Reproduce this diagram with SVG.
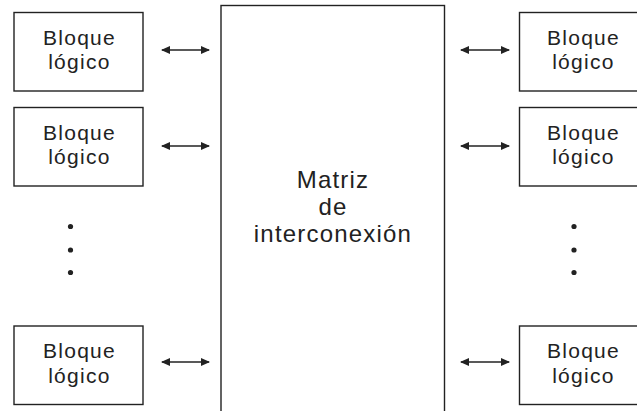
<svg xmlns="http://www.w3.org/2000/svg" width="637" height="411" viewBox="0 0 637 411">
  <style>
    .box { fill: #fff; stroke: #222; stroke-width: 1.4; }
    .lbl { font-family: "Liberation Sans", Arial, sans-serif; font-size: 21px; letter-spacing: 1.3px; fill: #222; text-anchor: middle; }
    .big { font-family: "Liberation Sans", Arial, sans-serif; font-size: 24px; letter-spacing: 1.2px; fill: #222; text-anchor: middle; }
    .link { stroke: #222; stroke-width: 1.5; fill: none; marker-start: url(#head); marker-end: url(#head); }
    .dot { fill: #222; }
  </style>
  <defs>
    <marker id="head" viewBox="0 0 9 8" refX="8" refY="4" markerWidth="9" markerHeight="8" markerUnits="userSpaceOnUse" orient="auto-start-reverse">
      <path d="M0,0 L9,4 L0,8 Z" fill="#222"/>
    </marker>
  </defs>

  <!-- interconnect matrix -->
  <g id="matrix">
    <rect class="box" x="221" y="5.5" width="223.5" height="420" stroke-width="1.6"/>
    <text class="big" x="333" y="188">Matriz</text>
    <text class="big" x="333" y="215">de</text>
    <text class="big" x="333" y="242">interconexión</text>
  </g>

  <!-- left column of logic blocks -->
  <g id="left1">
    <rect class="box" x="14" y="12.5" width="129" height="78.5"/>
    <text class="lbl" x="79.5" y="44.5">Bloque</text>
    <text class="lbl" x="79.5" y="69">lógico</text>
  </g>
  <g id="left2">
    <rect class="box" x="14" y="107.5" width="129" height="78.5"/>
    <text class="lbl" x="79.5" y="139.5">Bloque</text>
    <text class="lbl" x="79.5" y="164">lógico</text>
  </g>
  <g id="left3">
    <rect class="box" x="14" y="326" width="129" height="78.5"/>
    <text class="lbl" x="79.5" y="358">Bloque</text>
    <text class="lbl" x="79.5" y="382.5">lógico</text>
  </g>
  <g id="left-dots">
    <circle class="dot" cx="70.5" cy="226.5" r="2.6"/>
    <circle class="dot" cx="70.5" cy="250" r="2.6"/>
    <circle class="dot" cx="70.5" cy="272.5" r="2.6"/>
  </g>

  <!-- right column of logic blocks -->
  <g id="right1">
    <rect class="box" x="519.5" y="12.5" width="129" height="78.5"/>
    <text class="lbl" x="583.5" y="44.5">Bloque</text>
    <text class="lbl" x="583.5" y="69">lógico</text>
  </g>
  <g id="right2">
    <rect class="box" x="519.5" y="107.5" width="129" height="78.5"/>
    <text class="lbl" x="583.5" y="139.5">Bloque</text>
    <text class="lbl" x="583.5" y="164">lógico</text>
  </g>
  <g id="right3">
    <rect class="box" x="519.5" y="326" width="129" height="78.5"/>
    <text class="lbl" x="583.5" y="358">Bloque</text>
    <text class="lbl" x="583.5" y="382.5">lógico</text>
  </g>
  <g id="right-dots">
    <circle class="dot" cx="574" cy="226.5" r="2.6"/>
    <circle class="dot" cx="574" cy="250" r="2.6"/>
    <circle class="dot" cx="574" cy="272.5" r="2.6"/>
  </g>

  <!-- bidirectional links -->
  <g id="connectors">
    <line class="link" x1="162" y1="50" x2="209" y2="50"/>
    <line class="link" x1="162" y1="146" x2="209" y2="146"/>
    <line class="link" x1="162" y1="362" x2="209" y2="362"/>
    <line class="link" x1="461" y1="50" x2="509" y2="50"/>
    <line class="link" x1="461" y1="146" x2="509" y2="146"/>
    <line class="link" x1="461" y1="362" x2="509" y2="362"/>
  </g>
</svg>
